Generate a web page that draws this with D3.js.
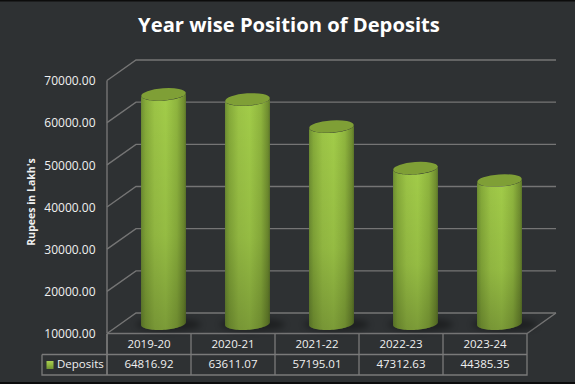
<!DOCTYPE html>
<html><head><meta charset="utf-8">
<script src="https://cdn.jsdelivr.net/npm/d3@7"></script>
<style>html,body{margin:0;padding:0;background:#2e3133}svg{display:block}text{font-family:"Open Sans",sans-serif;fill:#f0f0f0}</style>
</head><body><div id="c"></div>
<script>
const title = "Year wise Position of Deposits";
const yAxisTitle = "Rupees in Lakh's";
const seriesName = "Deposits";
const categories = ["2019-20","2020-21","2021-22","2022-23","2023-24"];
const values = [64816.92,63611.07,57195.01,47312.63,44385.35];
const valueLabels = ["64816.92","63611.07","57195.01","47312.63","44385.35"];
const yTicks = [10000,20000,30000,40000,50000,60000,70000];

const W=575,H=384;
const svg=d3.select("#c").append("svg").attr("width",W).attr("height",H);
const defs=svg.append("defs");
const side=defs.append("linearGradient").attr("id","side").attr("x1",0).attr("x2",1).attr("y1",0).attr("y2",0);
[[0,"#6f9033"],[.1,"#86ab3a"],[.3,"#9cc446"],[.55,"#a2cc49"],[.8,"#8fb53e"],[.95,"#718f30"],[1,"#5f7a2a"]].forEach(s=>side.append("stop").attr("offset",s[0]).attr("stop-color",s[1]));
const fade=defs.append("linearGradient").attr("id","fade").attr("x1",0).attr("x2",0).attr("y1",0).attr("y2",1);
[[0,0],[.6,.08],[1,.24]].forEach(s=>fade.append("stop").attr("offset",s[0]).attr("stop-color","#000").attr("stop-opacity",s[1]));
defs.append("filter").attr("id","blur").attr("x","-30%").attr("y","-60%").attr("width","160%").attr("height","220%").append("feGaussianBlur").attr("stdDeviation",3);
const lg=defs.append("linearGradient").attr("id","key").attr("x1",0).attr("x2",0).attr("y1",0).attr("y2",1);
[[0,"#a9d052"],[.5,"#8fb53e"],[1,"#6f9033"]].forEach(s=>lg.append("stop").attr("offset",s[0]).attr("stop-color",s[1]));

svg.append("rect").attr("width",W).attr("height",H).attr("fill","#2e3133");
svg.append("rect").attr("width",W).attr("height",1.5).attr("fill","#0c0c0c");
svg.append("rect").attr("y",382).attr("width",W).attr("height",2).attr("fill","#0c0c0c");

// plot geometry
const left=107,right=527,dx=29,dy=-20.5;
const y=d3.scaleLinear().domain([10000,70000]).range([333.5,80.5]);
const x=d3.scaleBand().domain(categories).range([left,right]);
const grid="#757575";
const g=svg.append("g");

yTicks.forEach(t=>{
  g.append("path").attr("fill","none").attr("stroke",grid).attr("stroke-width",1.4)
   .attr("d",d3.line()([[left,y(t)],[left+dx,y(t)+dy],[right+dx,y(t)+dy]]));
});
g.append("line").attr("x1",left).attr("x2",left).attr("y1",y(70000)).attr("y2",y(10000)).attr("stroke",grid).attr("stroke-width",1.4);
g.append("path").attr("fill","none").attr("stroke",grid).attr("stroke-width",1.4)
 .attr("d",d3.line()([[left,y(10000)],[right,y(10000)],[right+dx,y(10000)+dy]]));

// cylinders
const bw=45, rx=bw/2, ry=6.3, rot=-4*Math.PI/180;
const floorDy=-8;
const base=y(10000)+floorDy-2;
const bars=svg.append("g").selectAll("g").data(categories.map((c,i)=>({c,v:values[i]}))).join("g")
 .attr("transform",d=>`translate(${x(d.c)+x.bandwidth()/2+14.5},0)`);
bars.append("ellipse").attr("cx",5).attr("cy",base+1).attr("rx",rx+10).attr("ry",ry).attr("fill","#000").attr("opacity",.35).attr("filter","url(#blur)");
const ell=(cy,t)=>{
  const ex=rx*Math.cos(t), ey=ry*Math.sin(t);
  return [ex*Math.cos(rot)-ey*Math.sin(rot), cy+ex*Math.sin(rot)+ey*Math.cos(rot)];
};
const ts=d3.range(0,41).map(i=>i/40*Math.PI);
function cyl(topY){
  return d3.line()(ts.map(t=>ell(base,t)).concat(ts.slice().reverse().map(t=>ell(topY,t))))+"Z";
}
bars.append("path").attr("fill","url(#side)").attr("d",d=>cyl(y(d.v)+floorDy));
bars.append("path").attr("fill","url(#fade)").attr("d",d=>cyl(y(d.v)+floorDy));
bars.append("ellipse").attr("rx",rx-0.2).attr("ry",ry-0.2).attr("fill","#7f9f36")
 .attr("transform",d=>`translate(0,${y(d.v)+floorDy}) rotate(${rot*180/Math.PI})`);

// y tick labels
svg.append("g").selectAll("text").data(yTicks).join("text")
 .attr("x",95.5).attr("y",t=>y(t)+1.5).attr("text-anchor","end").attr("dominant-baseline","middle")
 .attr("font-size",12).attr("font-weight",500).text(t=>t.toFixed(2));
svg.append("text").attr("transform","translate(32,202) rotate(-90)").attr("text-anchor","middle").attr("dominant-baseline","middle")
 .attr("font-size",10.5).attr("font-weight",700).text(yAxisTitle);
svg.append("text").attr("x",289).attr("y",26.5).attr("text-anchor","middle").attr("dominant-baseline","middle")
 .attr("font-size",20.2).attr("font-weight",700).style("fill","#fff").text(title);

// data table
const t0=334,t1=354.5,t2=375,lx=42;
const tb=svg.append("g").attr("stroke","#7a7a7a").attr("stroke-width",1.3).attr("fill","none");
tb.append("path").attr("d",d3.line()([[lx,t1],[right,t1]]));
tb.append("path").attr("d",d3.line()([[lx,t1],[lx,t2],[right,t2],[right,t0]]));
tb.append("line").attr("x1",left).attr("x2",left).attr("y1",t0).attr("y2",t2);
categories.forEach(c=>tb.append("line").attr("x1",x(c)).attr("x2",x(c)).attr("y1",t0).attr("y2",t2));
const cx=c=>x(c)+x.bandwidth()/2;
svg.append("g").selectAll("text").data(categories).join("text").attr("x",cx).attr("y",t0+10.5)
 .attr("text-anchor","middle").attr("dominant-baseline","middle").attr("font-size",11.5).attr("font-weight",500).text(d=>d);
svg.append("g").selectAll("text").data(valueLabels).join("text").attr("x",(d,i)=>cx(categories[i])).attr("y",t1+10.5)
 .attr("text-anchor","middle").attr("dominant-baseline","middle").attr("font-size",11.5).attr("font-weight",500).text(d=>d);
svg.append("rect").attr("x",46.5).attr("y",361).attr("width",7).attr("height",8).attr("fill","url(#key)");
svg.append("text").attr("x",57).attr("y",t1+10.5).attr("dominant-baseline","middle").attr("font-size",11.5).attr("font-weight",500).text(seriesName);
</script></body></html>
